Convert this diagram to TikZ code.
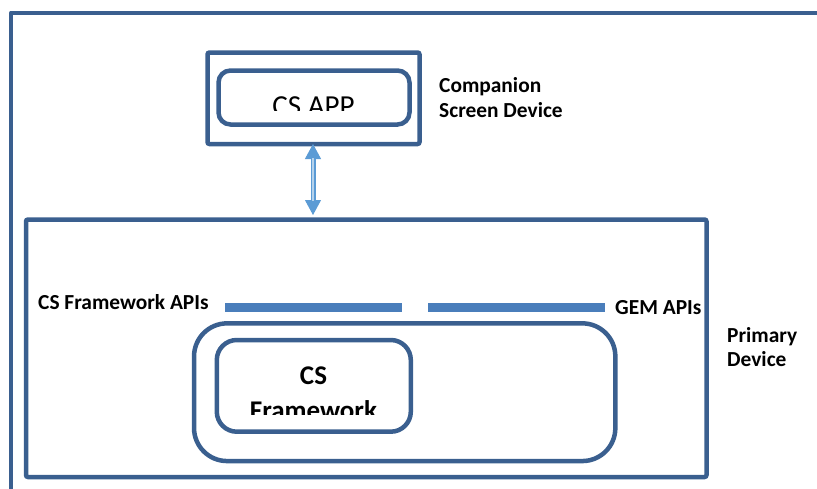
\documentclass[tikz,border=0pt]{standalone}
\usepackage{fontspec}
\setmainfont{Carlito}
\usetikzlibrary{arrows.meta}

\definecolor{frameblue}{HTML}{3A5F8F}
\definecolor{barblue}{HTML}{4A7EBB}
\definecolor{linkblue}{HTML}{5B9BD5}

\tikzset{
  box/.style={draw=frameblue, line width=4.5pt, rectangle, inner sep=0pt},
  sharpbox/.style={box, rounded corners=2pt},
  roundbox/.style={box, rounded corners=#1},
  apibar/.style={fill=barblue, draw=none},
  label/.style={inner sep=0pt, anchor=base west, font=\fontsize{21.4}{25}\selectfont\bfseries},
  boxtitle/.style={inner sep=0pt, anchor=base, text=black},
  linkarrow/.style={linkblue, line width=1pt, >={Triangle[width=16pt,length=15pt]}, <->},
}

\begin{document}
\begin{tikzpicture}[x=1pt, y=-1pt]
  \useasboundingbox (0,0) rectangle (817,488);
  \clip (0,0) rectangle (817,488);

  % outer enclosing frame, running off the page to the right and bottom
  \draw[frameblue, line width=4pt, line join=round] (11,500) -- (11,12.5) -- (830,12.5);

  % companion screen device
  \node[sharpbox, minimum width=212pt, minimum height=91.5pt] (csDevice) at (313.5,98.25) {};
  \node[roundbox=12pt, minimum width=191pt, minimum height=54pt] (csApp) at (314,97.5) {};
  \begin{scope}
    \clip (220,72) rectangle (408,110.5);
    \node[boxtitle, font=\fontsize{29}{34}\selectfont] (csAppText) at (313.5,115) {CS APP};
  \end{scope}
  \node[label] (compA) at (439,92) {Companion};
  \node[label] (compB) at (439,117) {Screen Device};

  % primary device
  \node[sharpbox, minimum width=680.5pt, minimum height=257.5pt] (primary) at (366.25,348.25) {};
  \node[roundbox=33pt, minimum width=421.3pt, minimum height=137.7pt] (platform) at (404.7,392.2) {};
  \node[roundbox=20pt, minimum width=194pt, minimum height=91.7pt] (csFw) at (313.8,385.85) {};
  \node[boxtitle, font=\fontsize{27}{36}\selectfont\bfseries] (csFwA) at (313.5,384) {CS};
  \begin{scope}
    \clip (220,390) rectangle (408,414);
    \node[boxtitle, font=\fontsize{27}{36}\selectfont\bfseries] (csFwB) at (313.5,419.5) {Framework};
  \end{scope}
  \node[label] (primA) at (727,342) {Primary};
  \node[label] (primB) at (727,366) {Device};

  % API bars
  \fill[apibar] (225,303.3) rectangle (401.7,311.7);
  \fill[apibar] (428,303.3) rectangle (605,311.7);
  \node[label] (csApi) at (38,309) {CS Framework APIs};
  \node[label] (gemApi) at (615,314) {GEM APIs};

  % link between the two devices: hollow-looking shaft with solid heads
  \coordinate (linkTop) at (313,144);
  \coordinate (linkBot) at (313,215);
  \coordinate (shaftTop) at (313,158);
  \coordinate (shaftBot) at (313,201);
  \draw[linkarrow] (linkTop) -- (linkBot);
  \draw[linkblue, line width=5pt] (shaftTop) -- (shaftBot);
  \draw[white!55!linkblue, line width=1.4pt] (shaftTop) -- (shaftBot);
\end{tikzpicture}
\end{document}
